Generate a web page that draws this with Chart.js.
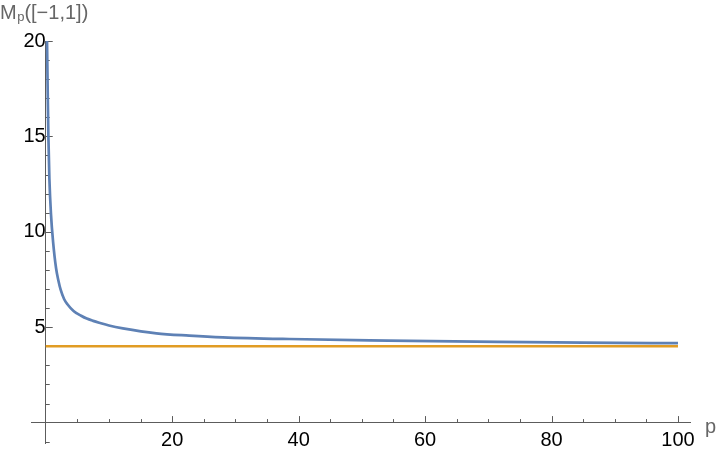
<!DOCTYPE html>
<html><head><meta charset="utf-8">
<script src="https://cdn.jsdelivr.net/npm/chart.js@4"></script>
<style>html,body{margin:0;padding:0;background:#fff}#wrap{width:720px;height:462px;position:relative}</style>
</head><body><div id="wrap"><canvas id="c"></canvas></div>
<script>
// Blue curve M_p([-1,1])
const pValues  = [0.15, 0.21, 0.32, 0.42, 0.58, 0.84, 1.16, 1.63, 2.0, 2.37, 2.9, 3.43, 4.4, 5.6, 6.49, 7.5, 8.49, 10, 12.2, 17.5, 22.7, 28, 38.5, 54.2, 71.5, 85, 100];
const mpValues = [21.5, 19.87, 17.1, 15.0, 12.77, 10.87, 9.49, 8.10, 7.45, 6.95, 6.48, 6.2, 5.85, 5.6, 5.45, 5.33, 5.23, 5.09, 4.94, 4.68, 4.56, 4.47, 4.38, 4.30, 4.23, 4.19, 4.16];
// Orange constant line
const limitP = [0, 100];
const limitValues = [4, 4];
// Tick labels
const xTickLabels = [20, 40, 60, 80, 100];
const yTickLabels = [5, 10, 15, 20];
const xMinorStep = 5;
const yMinorStep = 1;
// Axis labels
const yAxisMain = 'M';
const yAxisSub = 'p';
const yAxisRest = '([\u22121,1])';
const xAxisLabel = 'p';

const FONT = '"Liberation Sans", Arial, Helvetica, sans-serif';
const AXIS_COLOR = '#5c5c5c';

const blueData = pValues.map((p, i) => ({x: p, y: mpValues[i]}));
const orangeData = limitP.map((p, i) => ({x: p, y: limitValues[i]}));

const innerTicks = {
  id: 'innerTicks',
  beforeDatasetsDraw(chart) {
    const {ctx} = chart;
    const xs = chart.scales.x, ys = chart.scales.y;
    const x0 = xs.getPixelForValue(0), y0 = ys.getPixelForValue(0);
    ctx.save();
    ctx.strokeStyle = AXIS_COLOR;
    ctx.lineWidth = 1;
    ctx.beginPath();
    for (let v = xMinorStep; v <= xs.max; v += xMinorStep) {
      const px = Math.round(xs.getPixelForValue(v)) + 0.5;
      const len = xTickLabels.includes(v) ? 6.5 : 3.5;
      ctx.moveTo(px, y0); ctx.lineTo(px, y0 - len);
    }
    for (let v = ys.min < 0 ? -yMinorStep : 0; v <= ys.max + 1e-9; v += yMinorStep) {
      if (v === 0) continue;
      const py = Math.round(ys.getPixelForValue(v)) + 0.5;
      const len = yTickLabels.includes(v) ? 7 : 4;
      ctx.moveTo(x0, py); ctx.lineTo(x0 + len, py);
    }
    ctx.stroke();
    ctx.restore();
  },
  afterDraw(chart) {
    const {ctx} = chart;
    ctx.save();
    ctx.fillStyle = '#666666';
    ctx.textBaseline = 'alphabetic';
    ctx.textAlign = 'left';
    ctx.font = '20px ' + FONT;
    ctx.fillText(yAxisMain, 0, 19);
    let w = ctx.measureText(yAxisMain).width;
    ctx.font = '13px ' + FONT;
    ctx.fillText(yAxisSub, w + 0.5, 21);
    w += ctx.measureText(yAxisSub).width + 0.5;
    ctx.font = '20px ' + FONT;
    ctx.fillText(yAxisRest, w, 19);
    ctx.fillText(xAxisLabel, 705, 433);
    ctx.restore();
  }
};

new Chart(document.getElementById('c'), {
  type: 'line',
  data: {
    datasets: [
      {data: blueData, borderColor: '#5E81B5', borderWidth: 2.7, pointRadius: 0,
       cubicInterpolationMode: 'monotone', fill: false},
      {data: orangeData, borderColor: '#E19C24', borderWidth: 2.7, pointRadius: 0, fill: false}
    ]
  },
  options: {
    responsive: true,
    maintainAspectRatio: false,
    animation: false,
    layout: {padding: {left: 31, right: 30, top: 41, bottom: 15}},
    plugins: {legend: {display: false}, tooltip: {enabled: false}, title: {display: false}},
    scales: {
      x: {
        type: 'linear', position: {y: 0}, min: -2.33, max: 101.9,
        afterBuildTicks: s => { s.ticks = xTickLabels.map(v => ({value: v})); },
        grid: {drawOnChartArea: false, drawTicks: false},
        border: {display: true, color: AXIS_COLOR, width: 1},
        ticks: {autoSkip: false, maxRotation: 0, padding: 6, color: '#000',
                font: {family: FONT, size: 20}}
      },
      y: {
        type: 'linear', position: {x: 0}, min: -1.07, max: 20,
        afterBuildTicks: s => { s.ticks = yTickLabels.map(v => ({value: v})); },
        grid: {drawOnChartArea: false, drawTicks: false},
        border: {display: true, color: AXIS_COLOR, width: 1},
        ticks: {autoSkip: false, padding: 7, color: '#000',
                font: {family: FONT, size: 20}}
      }
    }
  },
  plugins: [innerTicks]
});
</script></body></html>
